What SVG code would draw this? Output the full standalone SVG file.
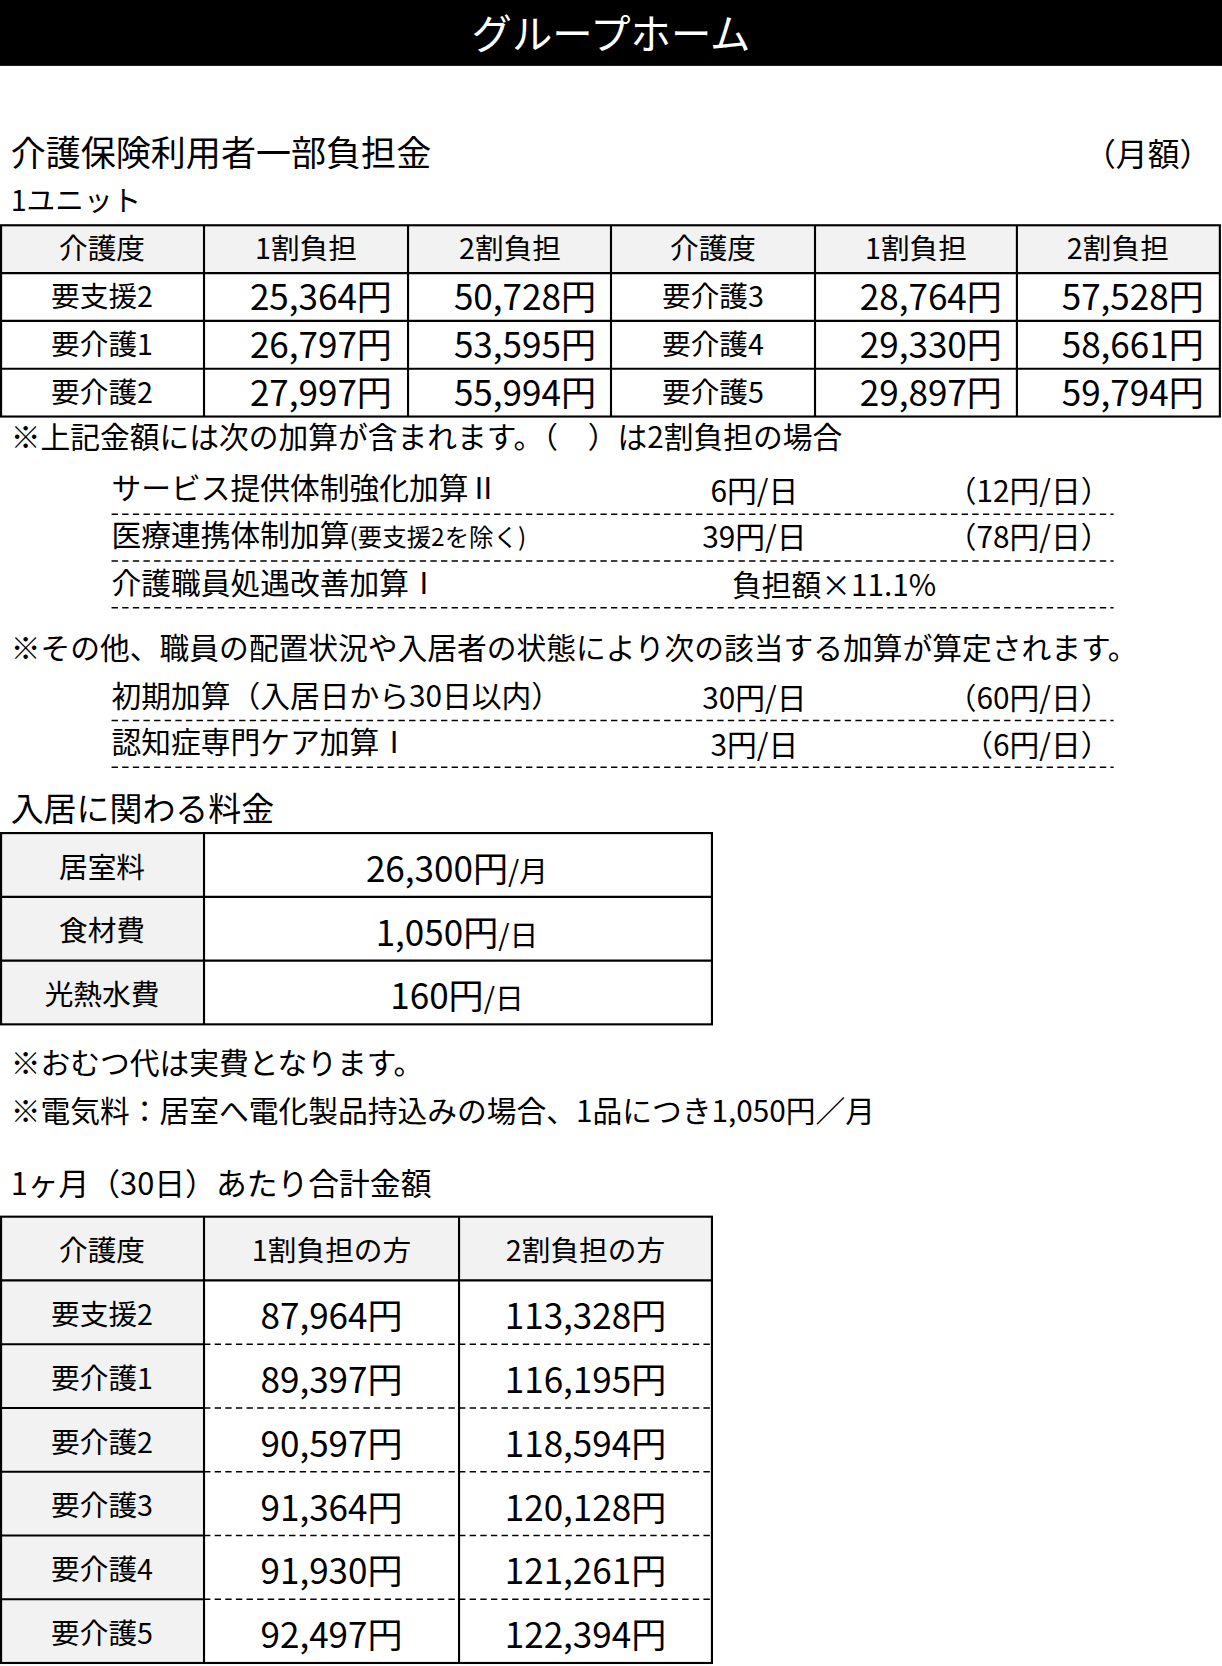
<svg xmlns="http://www.w3.org/2000/svg" width="1222" height="1666" viewBox="0 0 1222 1666">
<style>
text{font-family:"Noto Sans CJK JP","Liberation Sans",sans-serif;fill:#000}
.h{font-size:27px;text-anchor:middle}
.v{font-size:33px;text-anchor:middle;font-family:"Liberation Sans","Noto Sans CJK JP",sans-serif}
.n{font-size:28px}
.c{text-anchor:middle}
.r{text-anchor:end}
.ln{stroke:#000;stroke-width:2;fill:none}
.d{stroke:#000;stroke-width:1.5;stroke-dasharray:6,4;fill:none}
.g{fill:#f2f2f2}
</style>
<rect width="1222" height="1666" fill="#fff"/>
<g transform="scale(1.0626)">
<g id="title"><rect x="0" y="0" width="1150" height="62" fill="#000"/><text x="575" y="46" font-size="38" text-anchor="middle" style="fill:#fff">グループホーム</text></g>
<g id="sec1">
<text x="10" y="156" font-size="33">介護保険利用者一部負担金</text>
<text x="1140" y="156" font-size="30" class="r">（月額）</text>
<text x="10" y="199" font-size="27">1ユニット</text>
</g>
<g id="table1">
<rect x="1" y="212" width="1147" height="45" class="g"/>
<rect x="1" y="212" width="1147" height="180" class="ln"/>
<path class="ln" d="M1 257H1148M1 302H1148M1 347H1148M192 212V392M384 212V392M575 212V392M767 212V392M957 212V392"/>
<g class="h"><text x="96" y="244">介護度</text><text x="288" y="244">1割負担</text><text x="480" y="244">2割負担</text><text x="671" y="244">介護度</text><text x="862" y="244">1割負担</text><text x="1052" y="244">2割負担</text>
<text x="96" y="289">要支援2</text><text x="671" y="289">要介護3</text>
<text x="96" y="334">要介護1</text><text x="671" y="334">要介護4</text>
<text x="96" y="379">要介護2</text><text x="671" y="379">要介護5</text></g>
<g class="v"><text x="302" y="292">25,364円</text><text x="494" y="292">50,728円</text><text x="876" y="292">28,764円</text><text x="1066" y="292">57,528円</text>
<text x="302" y="337">26,797円</text><text x="494" y="337">53,595円</text><text x="876" y="337">29,330円</text><text x="1066" y="337">58,661円</text>
<text x="302" y="382">27,997円</text><text x="494" y="382">55,994円</text><text x="876" y="382">29,897円</text><text x="1066" y="382">59,794円</text></g>
</g>
<g id="notes1" class="n">
<text x="10" y="422">※上記金額には次の加算が含まれます。（　）は2割負担の場合</text>
<text x="105" y="470">サービス提供体制強化加算Ⅱ</text><text x="710" y="472" class="c">6円/日</text><text x="1045" y="472" class="r">（12円/日）</text>
<text x="105" y="514">医療連携体制加算<tspan font-size="23">(要支援2を除く)</tspan></text><text x="710" y="516" class="c">39円/日</text><text x="1045" y="516" class="r">（78円/日）</text>
<text x="105" y="559">介護職員処遇改善加算Ⅰ</text><text x="785" y="561" class="c">負担額×11.1%</text>
<text x="10" y="620">※その他、職員の配置状況や入居者の状態により次の該当する加算が算定されます。</text>
<text x="105" y="665">初期加算（入居日から30日以内）</text><text x="710" y="667" class="c">30円/日</text><text x="1045" y="667" class="r">（60円/日）</text>
<text x="105" y="709">認知症専門ケア加算Ⅰ</text><text x="710" y="711" class="c">3円/日</text><text x="1045" y="711" class="r">（6円/日）</text>
<path class="d" d="M105 484H1048M105 528H1048M105 572H1048M105 678H1048M105 722H1048"/>
</g>
<g id="table2">
<text x="10" y="773" font-size="31">入居に関わる料金</text>
<rect x="1" y="784" width="191" height="180" class="g"/>
<rect x="1" y="784" width="669" height="180" class="ln"/>
<path class="ln" d="M1 844H670M1 904H670M192 784V964"/>
<g class="h" font-size="30"><text x="96" y="826">居室料</text><text x="96" y="886">食材費</text><text x="96" y="946">光熱水費</text></g>
<g class="v"><text x="430" y="830">26,300円<tspan font-size="27">/月</tspan></text><text x="430" y="890">1,050円<tspan font-size="27">/日</tspan></text><text x="430" y="950">160円<tspan font-size="27">/日</tspan></text></g>
</g>
<g id="notes2" class="n">
<text x="10" y="1011">※おむつ代は実費となります。</text>
<text x="10" y="1056">※電気料：居室へ電化製品持込みの場合、1品につき1,050円／月</text>
<text x="10" y="1125" font-size="29">1ヶ月（30日）あたり合計金額</text>
</g>
<g id="table3">
<rect x="1" y="1145" width="669" height="60" class="g"/>
<rect x="1" y="1205" width="191" height="360" class="g"/>
<rect x="1" y="1145" width="669" height="420" class="ln"/>
<path class="ln" d="M1 1205H670M192 1145V1565M432 1145V1565M1 1265H192M1 1325H192M1 1385H192M1 1445H192M1 1505H192"/>
<path class="d" d="M192 1265H670M192 1325H670M192 1385H670M192 1445H670M192 1505H670"/>
<g class="h" font-size="31"><text x="96" y="1187">介護度</text><text x="312" y="1187">1割負担の方</text><text x="551" y="1187">2割負担の方</text>
<text x="96" y="1247">要支援2</text><text x="96" y="1307">要介護1</text><text x="96" y="1367">要介護2</text><text x="96" y="1427">要介護3</text><text x="96" y="1487">要介護4</text><text x="96" y="1547">要介護5</text></g>
<g class="v"><text x="312" y="1251">87,964円</text><text x="551" y="1251">113,328円</text>
<text x="312" y="1311">89,397円</text><text x="551" y="1311">116,195円</text>
<text x="312" y="1371">90,597円</text><text x="551" y="1371">118,594円</text>
<text x="312" y="1431">91,364円</text><text x="551" y="1431">120,128円</text>
<text x="312" y="1491">91,930円</text><text x="551" y="1491">121,261円</text>
<text x="312" y="1551">92,497円</text><text x="551" y="1551">122,394円</text></g>
</g>
</g>
</svg>
